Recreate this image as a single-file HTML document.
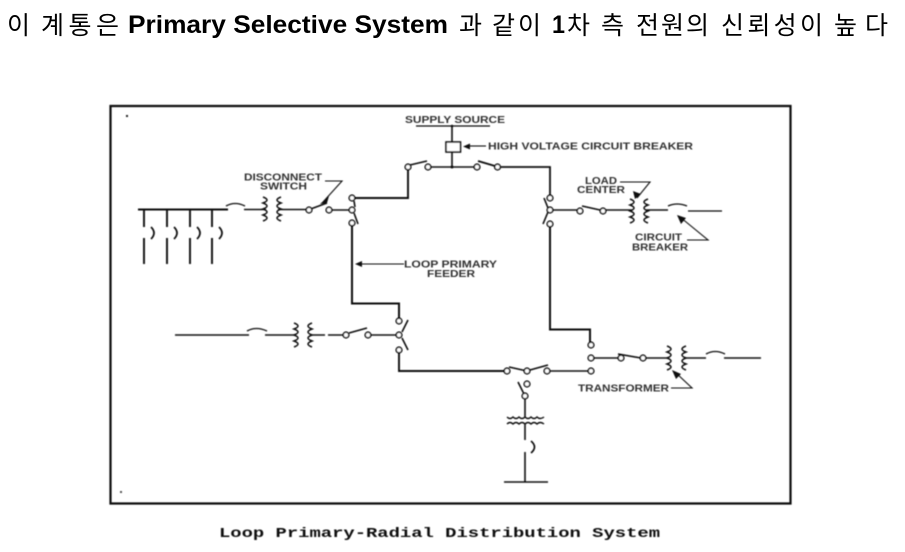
<!DOCTYPE html>
<html><head><meta charset="utf-8"><style>
html,body{margin:0;padding:0;background:#fff;width:905px;height:552px;overflow:hidden}
svg{display:block}
.l{font-family:"Liberation Sans",sans-serif;font-size:10px;font-weight:bold;fill:#333}
.k{font-family:"Liberation Sans","Noto Sans CJK KR",sans-serif;font-size:25px;fill:#000}
.e{font-family:"Liberation Sans",sans-serif;font-size:25px;font-weight:bold;fill:#000}
</style></head><body>
<svg width="905" height="552" viewBox="0 0 905 552" xmlns="http://www.w3.org/2000/svg">
<defs>
<filter id="b" x="-2%" y="-2%" width="104%" height="104%"><feGaussianBlur stdDeviation="0.4"/></filter>
<path id="cl" d="M0 0q8 3 0 6q8 3 0 6q8 3 0 6q8 3 0 6" fill="none" stroke="#111" stroke-width="1.5"/>
<path id="cr" d="M0 0q-8 3 0 6q-8 3 0 6q-8 3 0 6q-8 3 0 6" fill="none" stroke="#111" stroke-width="1.5"/>
</defs>
<g>
<text class="k" x="7" y="34">이</text>
<text class="k" x="41" y="34" textLength="78">계통은</text>
<text class="e" x="128" y="33" textLength="320" lengthAdjust="spacingAndGlyphs">Primary Selective System</text>
<text class="k" x="459" y="34">과</text>
<text class="k" x="492" y="34" textLength="49">같이</text>
<text class="e" x="552" y="33" textLength="13" lengthAdjust="spacingAndGlyphs">1</text>
<text class="k" x="567" y="34">차</text>
<text class="k" x="601" y="34">측</text>
<text class="k" x="636" y="34" textLength="73">전원의</text>
<text class="k" x="721" y="34" textLength="102">신뢰성이</text>
<text class="k" x="834" y="34" textLength="54">높다</text>
</g>
<g filter="url(#b)">
<path d="M110.500 106H790.500V503.500H110.500Z" fill="none" stroke="#111" stroke-width="2.200"/>
<rect x="126" y="115" width="2" height="2" fill="#222"/><rect x="120" y="491" width="2" height="2" fill="#555"/>
<g fill="none" stroke="#111" stroke-width="1.600">
<path d="M138 209.500H228M144 210V227M144 238V264M167 210V227M167 238V264M190 210V227M190 238V264M212 210V227M212 238V264" stroke-width="1.900"/>
<path d="M151 227q6 6 0 12M174 227q6 6 0 12M197 227q6 6 0 12M219 227q6 6 0 12" stroke-width="1.700"/>
<path d="M226 206q9-5 19 0" stroke-width="1.300"/>
<path d="M244 209.500H266M278 209.500H306"/>
<path d="M312 208.500L327 203M332 210H349"/>
<path d="M355 198H408V169" stroke-width="1.900"/>
<path d="M355 207L354 201M354 213L358 224"/>
<path d="M410 165L427 161M431 167H474M452 126V142M452 152V167"/>
<path d="M478 161L495 166M501 167H550V195" stroke-width="1.800"/>
<path d="M416 126H490" stroke-width="1.300"/>
<path d="M544 198L548 208M548 212L543 224M553 210H578"/>
<path d="M582 206L600 210M606 210H632M646 210H668"/>
<path d="M668 206q9-4 19 0M688 211H722" stroke-width="1.300"/>
<path d="M352 226V303.500H399V318" stroke-width="2"/>
<path d="M550 227V329.500H590V342" stroke-width="2"/>
<path d="M175 335H249M265 335H296M310 335H325M328 335H343M349 333L367 328M371 335H396"/>
<path d="M247 331q9-5 20 0" stroke-width="1.300"/>
<path d="M402 332L408 320M402 338L408 350"/>
<path d="M399 353V371H504" stroke-width="1.900"/>
<path d="M509 367L527 371M530 370L548 365M550 371H588"/>
<path d="M594 358H618M618 354L641 358M646 358H669M684 358H706M724 358H761"/>
<path d="M706 354q9-5 19 0" stroke-width="1.300"/>
<path d="M518 382L524 394M525 399V417M525 424V440M525 452V482M504 482H548"/>
<path d="M531 441q7 6 0 12" stroke-width="1.700"/>
<path d="M325 181H342L323 202" stroke-width="1.100"/>
<path d="M358 264H404" stroke-width="1.100"/>
<path d="M470 146H486" stroke-width="1.100"/>
<path d="M620 182H650L637 198" stroke-width="1.100"/>
<path d="M687 240H708L680 217" stroke-width="1.100"/>
<path d="M671 388H692L675 372" stroke-width="1.100"/>
<path d="M507 417q3 3 6 0q3 3 6 0q3 3 6 0q3 3 6 0q3 3 6 0q3 3 7 0M507 424q3-3 6 0q3-3 6 0q3-3 6 0q3-3 6 0q3-3 6 0q3-3 7 0" stroke-width="1.400"/>
</g>
<use href="#cl" x="263" y="197"/><use href="#cr" x="281" y="197"/>
<use href="#cl" x="630" y="199"/><use href="#cr" x="648" y="199"/>
<use href="#cl" x="294" y="323"/><use href="#cr" x="312" y="323"/>
<use href="#cl" x="667" y="346"/><use href="#cr" x="686" y="346"/>
<rect x="446" y="142" width="14.500" height="10" fill="#fff" stroke="#111" stroke-width="1.600"/>
<circle cx="452" cy="126" r="1.300" fill="#111"/><circle cx="452" cy="167" r="1.500" fill="#111"/>
<g fill="#fff" stroke="#111" stroke-width="1.600">
<circle cx="309" cy="210" r="2.800"/><circle cx="329" cy="210" r="2.800"/><circle cx="352" cy="198" r="2.800"/><circle cx="352" cy="210" r="2.800"/><circle cx="352" cy="223" r="2.800"/>
<circle cx="408" cy="167" r="2.800"/><circle cx="428" cy="167" r="2.800"/><circle cx="477" cy="167" r="2.800"/><circle cx="497.500" cy="167" r="2.800"/>
<circle cx="550" cy="198" r="2.800"/><circle cx="550" cy="210" r="2.800"/><circle cx="550" cy="224" r="2.800"/><circle cx="580" cy="211" r="2.800"/><circle cx="603" cy="211" r="2.800"/>
<circle cx="346" cy="335" r="2.800"/><circle cx="368" cy="335" r="2.800"/><circle cx="399" cy="321" r="2.800"/><circle cx="399" cy="335" r="2.800"/><circle cx="399" cy="350" r="2.800"/>
<circle cx="591" cy="345" r="2.800"/><circle cx="591" cy="358" r="2.800"/><circle cx="591" cy="371" r="2.800"/><circle cx="621" cy="358" r="2.800"/><circle cx="643" cy="358" r="2.800"/>
<circle cx="507" cy="371" r="2.800"/><circle cx="527" cy="371" r="2.800"/><circle cx="547" cy="371" r="2.800"/><circle cx="527" cy="384" r="2.800"/><circle cx="525" cy="396" r="2.800"/>
</g>
<g fill="#111">
<path d="M320 204L327 203L329 196Z"/><path d="M355 264L362 261V267Z"/><path d="M463 146.500L470 143.500V149.500Z"/>
<path d="M635 199L633 191L641 194Z"/><path d="M677 215L686 218L681 224Z"/><path d="M672 370L681 374L676 379Z"/>
</g>
<text class="l" x="405" y="123" textLength="100" lengthAdjust="spacingAndGlyphs">SUPPLY SOURCE</text>
<text class="l" x="488" y="149.500" textLength="205" lengthAdjust="spacingAndGlyphs">HIGH VOLTAGE CIRCUIT BREAKER</text>
<text class="l" x="244" y="180.500" textLength="78" lengthAdjust="spacingAndGlyphs">DISCONNECT</text>
<text class="l" x="260" y="189.500" textLength="47" lengthAdjust="spacingAndGlyphs">SWITCH</text>
<text class="l" x="585" y="184" textLength="32" lengthAdjust="spacingAndGlyphs">LOAD</text>
<text class="l" x="577" y="193" textLength="48" lengthAdjust="spacingAndGlyphs">CENTER</text>
<text class="l" x="635" y="240.500" textLength="47" lengthAdjust="spacingAndGlyphs">CIRCUIT</text>
<text class="l" x="632" y="250.500" textLength="56" lengthAdjust="spacingAndGlyphs">BREAKER</text>
<text class="l" x="404" y="267.500" textLength="93" lengthAdjust="spacingAndGlyphs">LOOP PRIMARY</text>
<text class="l" x="427" y="277" textLength="48" lengthAdjust="spacingAndGlyphs">FEEDER</text>
<text class="l" x="578" y="391.500" textLength="91" lengthAdjust="spacingAndGlyphs">TRANSFORMER</text>
<text x="219" y="537" textLength="441" lengthAdjust="spacingAndGlyphs" font-family="'Liberation Mono',monospace" font-weight="bold" font-size="14" fill="#111">Loop Primary-Radial Distribution System</text>
</g>
</svg>
</body></html>
